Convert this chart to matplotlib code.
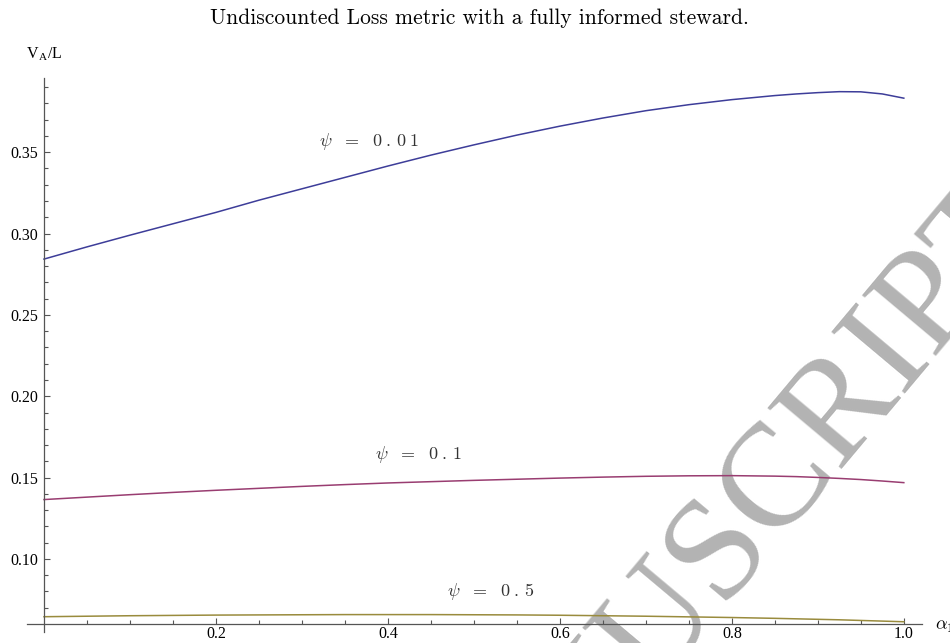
import matplotlib.pyplot as plt

# alpha_1 grid and V_A/L for each psi (undiscounted loss, fully informed steward)
alpha = [0.00, 0.05, 0.10, 0.15, 0.20, 0.25, 0.30, 0.35, 0.40, 0.45, 0.50,
         0.55, 0.60, 0.65, 0.70, 0.75, 0.80, 0.85, 0.875, 0.90, 0.925,
         0.95, 0.975, 1.00]
v_psi_001 = [0.2843, 0.2918, 0.2990, 0.3060, 0.3130, 0.3205, 0.3275, 0.3345,
             0.3415, 0.3482, 0.3545, 0.3605, 0.3660, 0.3710, 0.3755, 0.3792,
             0.3823, 0.3848, 0.3858, 0.3866, 0.3872, 0.3871, 0.3858, 0.3832]
v_psi_01 = [0.1365, 0.1380, 0.1395, 0.1409, 0.1422, 0.1434, 0.1446, 0.1457,
            0.1467, 0.1475, 0.1483, 0.1490, 0.1497, 0.1503, 0.1508, 0.1511,
            0.1512, 0.1509, 0.1506, 0.1501, 0.1495, 0.1488, 0.1479, 0.1469]
v_psi_05 = [0.0645, 0.0648, 0.0651, 0.0653, 0.0655, 0.0656, 0.0657, 0.0658,
            0.0658, 0.0658, 0.0657, 0.0656, 0.0654, 0.0651, 0.0648, 0.0644,
            0.0640, 0.0635, 0.0632, 0.0629, 0.0626, 0.0622, 0.0618, 0.0614]

x_major = [0.2, 0.4, 0.6, 0.8, 1.0]
y_major = [0.10, 0.15, 0.20, 0.25, 0.30, 0.35]

plt.rcParams['mathtext.fontset'] = 'cm'

fig = plt.figure(figsize=(9.5, 6.43), dpi=100)
ax = fig.add_axes([0.0284, 0.0171, 0.942, 0.8616])

# big grey watermark behind everything
fig.text(0.456, -0.480, 'MANUSCRIPT', fontsize=106, color='#b3b3b3',
         family='Liberation Serif', rotation=50,
         rotation_mode='anchor', ha='left', va='baseline', zorder=0)
ax.set_zorder(1)
ax.patch.set_alpha(0)

ax.plot(alpha, v_psi_001, color='#3d3d99', lw=1.1)
ax.plot(alpha, v_psi_01, color='#993d71', lw=1.1)
ax.plot(alpha, v_psi_05, color='#998b3d', lw=1.1)

lab_kw = dict(fontsize=13, color='#333333', ha='center', va='center')
ax.text(0.378, 0.3568, r'$\psi\ \ =\ \ 0\;.\,0\;1$', **lab_kw)
ax.text(0.435, 0.1641, r'$\psi\ \ =\ \ 0\;.\,1$', **lab_kw)
ax.text(0.520, 0.0797, r'$\psi\ \ =\ \ 0\;.\,5$', **lab_kw)

ax.set_xlim(-0.0198, 1.021)
ax.set_ylim(0.0551, 0.3956)

# axes crossing at (0, 0.06)
for s in ['top', 'right']:
    ax.spines[s].set_visible(False)
ax.spines['left'].set_position(('data', 0))
ax.spines['bottom'].set_position(('data', 0.06))
for s in ['left', 'bottom']:
    ax.spines[s].set_color('#555555')
    ax.spines[s].set_linewidth(0.9)

ax.set_xticks(x_major)
ax.set_xticklabels(['%.1f' % v for v in x_major])
ax.set_xticks([i * 0.05 for i in range(1, 21)], minor=True)
ax.set_yticks(y_major)
ax.set_yticklabels(['%.2f' % v for v in y_major])
ax.set_yticks([0.06 + i * 0.01 for i in range(1, 34)], minor=True)
ax.tick_params(which='both', direction='in', color='#555555', width=0.8,
               labelsize=11.5, pad=4)
ax.tick_params(axis='x', which='both', pad=1.5)
ax.tick_params(which='major', length=4.5)
ax.tick_params(which='minor', length=3)
for t in ax.get_xticklabels() + ax.get_yticklabels():
    t.set_family('Liberation Serif')

ax.annotate(r'V$_\mathregular{A}$/L', xy=(0, 1), xycoords=('data', 'axes fraction'),
            xytext=(0, 24), textcoords='offset pixels', ha='center', va='center',
            fontsize=11.5, family='Liberation Serif', annotation_clip=False)
ax.text(1.036, 0.0585, r'$\alpha_1$', fontsize=13, ha='left', va='center',
        clip_on=False)

fig.text(0.505, 0.972, 'Undiscounted Loss metric with a fully informed steward.',
         ha='center', va='center', fontsize=15.5, family='cmr10')

fig.savefig('out.png', dpi=100)
